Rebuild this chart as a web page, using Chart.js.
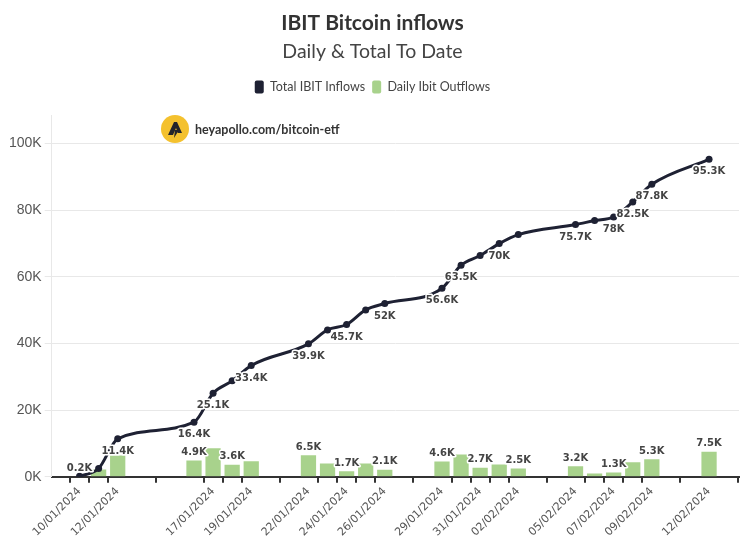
<!DOCTYPE html>
<html>
<head>
<meta charset="utf-8">
<script src="https://cdn.jsdelivr.net/npm/chart.js@4.4.1/dist/chart.umd.min.js"></script>
<style>
  body { margin: 0; background: #fff; }
  #wrap { position: relative; width: 750px; height: 549px; }
  .brand { position: absolute; left: 161px; top: 115px; display: flex; align-items: center;
           font: bold 12.5px Lato, sans-serif; color: #333; }
  .brand svg { margin-right: 6px; }
</style>
</head>
<body>
<div id="wrap">
  <canvas id="ibitChart"></canvas>
  <div class="brand">
    <svg width="28" height="28" viewBox="0 0 28 28">
      <circle cx="14" cy="14" r="14" fill="#f4c12e"/>
      <path d="M7 20 L13 7 L16 7 L21 18 L17 18 L15 13 L12 20 Z M14 15 L18 15 L13 23 Z" fill="#23242b"/>
    </svg>
    <span>heyapollo.com/bitcoin-etf</span>
  </div>
</div>
<script>
// Data (thousands of BTC)
const dates = ['10/01/2024', '11/01/2024', '12/01/2024', '16/01/2024', '17/01/2024', '18/01/2024',
               '19/01/2024', '22/01/2024', '23/01/2024', '24/01/2024', '25/01/2024', '26/01/2024',
               '29/01/2024', '30/01/2024', '31/01/2024', '01/02/2024', '02/02/2024', '05/02/2024',
               '06/02/2024', '07/02/2024', '08/02/2024', '09/02/2024', '12/02/2024'];
const totalInflows = [0.2, 2.5, 11.4, 16.4, 25.1, 28.8, 33.4, 39.9, 44.1, 45.7, 50.1, 52,
                      56.6, 63.5, 66.4, 70, 72.7, 75.7, 76.9, 78, 82.5, 87.8, 95.3];
const dailyFlows = [0.2, 2.2, 6.4, 4.9, 8.6, 3.6, 4.7, 6.5, 4.0, 1.7, 4.0, 2.1,
                    4.6, 6.7, 2.7, 3.7, 2.5, 3.2, 1.0, 1.3, 4.4, 5.3, 7.5];
// which points carry a value label
const totalLabelIdx = [2, 3, 4, 6, 7, 9, 11, 12, 13, 15, 17, 19, 20, 21, 22];
const dailyLabelIdx = [0, 3, 5, 7, 9, 11, 12, 14, 16, 17, 19, 21, 22];
// dates printed under the x axis
const tickDates = ['10/01/2024', '12/01/2024', '17/01/2024', '19/01/2024', '22/01/2024', '24/01/2024',
                   '26/01/2024', '29/01/2024', '31/01/2024', '02/02/2024', '05/02/2024', '07/02/2024',
                   '09/02/2024', '12/02/2024'];
const yTicks = [0, 20, 40, 60, 80, 100];

const lineColor = '#1e2133',
      barColor = '#a8d28c',
      labelColor = '#444';

// day number counted from the first date
function dayNum(s) {
  const [d, m, y] = s.split('/').map(Number);
  return Math.round((Date.UTC(y, m - 1, d) - Date.UTC(2024, 0, 10)) / 86400000);
}
const days = dates.map(dayNum);

// Value labels drawn above bars / under line points
const valueLabels = {
  id: 'valueLabels',
  afterDatasetsDraw(chart) {
    const ctx = chart.ctx;
    ctx.save();
    ctx.font = 'bold 10px "DejaVu Sans"';
    ctx.textAlign = 'center';
    ctx.textBaseline = 'middle';
    ctx.lineWidth = 3;
    ctx.lineJoin = 'round';
    ctx.strokeStyle = '#fff';
    ctx.fillStyle = labelColor;
    chart.data.datasets.forEach((ds, i) => {
      const meta = chart.getDatasetMeta(i);
      ds.labelIdx.forEach(j => {
        const el = meta.data[j];
        const y = ds.type === 'line' ? el.y + 12.5 : el.y - 8;
        const txt = ds.data[j].y + 'K';
        ctx.strokeText(txt, el.x, y);
        ctx.fillText(txt, el.x, y);
      });
    });
    ctx.restore();
  }
};

// extra room between legend and plot
const legendGap = {
  id: 'legendGap',
  beforeInit(chart) {
    const fit = chart.legend.fit;
    chart.legend.fit = function() {
      fit.bind(chart.legend)();
      this.height += 12;
    };
  }
};

new Chart(document.getElementById('ibitChart'), {
  type: 'bar',
  data: {
    datasets: [
      { type: 'line',
        label: 'Total IBIT Inflows',
        data: days.map((d, i) => ({ x: d, y: totalInflows[i] })),
        labelIdx: totalLabelIdx,
        borderColor: lineColor,
        backgroundColor: lineColor,
        borderWidth: 3,
        pointRadius: 3.5,
        pointBackgroundColor: lineColor,
        pointBorderWidth: 0,
        cubicInterpolationMode: 'monotone',
        order: 0
      },
      { type: 'bar',
        label: 'Daily Ibit Outflows',
        data: days.map((d, i) => ({ x: d, y: dailyFlows[i] })),
        labelIdx: dailyLabelIdx,
        backgroundColor: barColor,
        barPercentage: 0.8,
        categoryPercentage: 1,
        order: 1
      }
    ]
  },
  options: {
    responsive: true,
    maintainAspectRatio: false,
    animation: false,
    layout: { padding: { left: 6, right: 11, bottom: 8, top: 0 } },
    plugins: {
      tooltip: { enabled: false },
      title: {
        display: true, text: 'IBIT Bitcoin inflows', color: '#333',
        font: { family: 'Lato', size: 21, weight: 'bold' },
        padding: { top: 11, bottom: 4 }
      },
      subtitle: {
        display: true, text: 'Daily & Total To Date', color: '#444',
        font: { family: 'Lato', size: 19.5 },
        padding: { bottom: 10 }
      },
      legend: {
        position: 'top',
        labels: {
          color: '#444',
          font: { family: 'Lato', size: 12.5 },
          boxWidth: 9, boxHeight: 13, padding: 7,
          useBorderRadius: true, borderRadius: 2,
          generateLabels(chart) {
            return Chart.defaults.plugins.legend.labels.generateLabels(chart)
              .map(l => Object.assign(l, { lineWidth: 0 }));
          }
        }
      }
    },
    scales: {
      x: {
        type: 'linear',
        offset: false,
        min: -1.46,
        max: 34.57,
        afterBuildTicks(scale) { scale.ticks = days.map(v => ({ value: v })); },
        ticks: {
          autoSkip: false, minRotation: 45, maxRotation: 45,
          color: '#555', font: { family: 'DejaVu Sans', size: 11 }, padding: 2,
          callback(v) {
            const s = dates[days.indexOf(v)];
            return tickDates.includes(s) ? s : '';
          }
        },
        grid: { drawOnChartArea: false, color: '#333', lineWidth: 2, tickLength: 6 },
        border: { color: '#333', width: 2 }
      },
      y: {
        min: 0,
        max: 108.4,
        afterBuildTicks(scale) { scale.ticks = yTicks.map(v => ({ value: v })); },
        ticks: {
          color: '#555', font: { family: 'Liberation Sans', size: 14 }, padding: 3,
          callback: v => v + 'K'
        },
        grid: { color: '#e8e8e8', tickLength: 7 },
        border: { color: '#e8e8e8' }
      }
    }
  },
  plugins: [valueLabels, legendGap]
});
</script>
</body>
</html>
